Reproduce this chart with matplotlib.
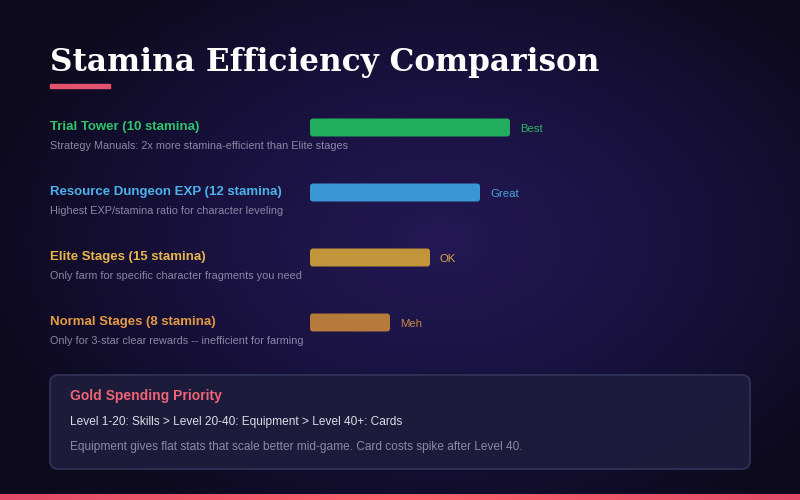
import numpy as np
import matplotlib.pyplot as plt
from matplotlib.patches import FancyBboxPatch, Rectangle
from matplotlib.colors import LinearSegmentedColormap

# data
names = ["Trial Tower (10 stamina)", "Resource Dungeon EXP (12 stamina)",
         "Elite Stages (15 stamina)", "Normal Stages (8 stamina)"]
notes = ["Strategy Manuals: 2x more stamina-efficient than Elite stages",
         "Highest EXP/stamina ratio for character leveling",
         "Only farm for specific character fragments you need",
         "Only for 3-star clear rewards -- inefficient for farming"]
scores = [100, 85, 60, 40]
ratings = ["Best", "Great", "OK", "Meh"]
bar_colors = ["#22ac5d", "#3a97d4", "#c2953a", "#b57a3c"]
label_colors = ["#2fc46a", "#4cb3ea", "#e8b64c", "#e39a45"]
rating_colors = ["#2fb363", "#4aa3dc", "#d6a443", "#c98a45"]

panel_title = "Gold Spending Priority"
panel_line = "Level 1-20: Skills > Level 20-40: Equipment > Level 40+: Cards"
panel_note = "Equipment gives flat stats that scale better mid-game. Card costs spike after Level 40."

plt.rcParams['font.family'] = ['Liberation Sans', 'DejaVu Sans']

fig = plt.figure(figsize=(8, 5), dpi=100)

# background axes in pixel units
bg = fig.add_axes([0, 0, 1, 1])
bg.set_xlim(0, 800)
bg.set_ylim(500, 0)
bg.axis('off')
yy, xx = np.mgrid[0:500, 0:800]
d = np.sqrt(((xx - 440) / 470.0) ** 2 + ((yy - 240) / 320.0) ** 2)
cmap = LinearSegmentedColormap.from_list('bg', ['#231854', '#19123f', '#0d0a1e'])
bg.imshow(np.clip(d, 0, 1), cmap=cmap, extent=(0, 800, 500, 0), aspect='auto', zorder=0)

# title + underline
bg.text(50, 71, "Stamina Efficiency Comparison", fontsize=22.4, family='DejaVu Serif',
        weight='bold', color='white', va='baseline')
bg.add_patch(Rectangle((50, 84), 60, 3.5, color='#e2536e', zorder=2))

# labels and notes
for i in range(len(names)):
    y = 130 + 65 * i
    bg.text(50, y, names[i], fontsize=9.5, weight='bold', color=label_colors[i], va='baseline')
    bg.text(50, y + 19, notes[i], fontsize=7.8, color='#8a87a6', va='baseline')

# bars
ax = fig.add_axes([310 / 800, 1 - 355 / 500, 200 / 800, 260 / 500])
ax.set_xlim(0, 100)
ax.set_ylim(3.5, -0.5)
ax.axis('off')
ax.patch.set_alpha(0)
bars = ax.barh(range(len(scores)), scores, height=18 / 65, color=bar_colors)
for b in bars:
    x0, y0 = b.get_x(), b.get_y()
    w, h = b.get_width(), b.get_height()
    rb = FancyBboxPatch((x0, y0), w, h, boxstyle="round,pad=0,rounding_size=1.6",
                        mutation_aspect=1 / 32.5, facecolor=b.get_facecolor(), edgecolor='none')
    b.remove()
    ax.add_patch(rb)
for i, s in enumerate(scores):
    ax.text(s + 5, i + 0.03, ratings[i], fontsize=8.2, color=rating_colors[i], va='center', clip_on=False)

# gold panel
bg.add_patch(FancyBboxPatch((50, 375), 700, 94, boxstyle="round,pad=0,rounding_size=8",
                            facecolor='#1d1c3c', edgecolor='#34365a', linewidth=1.2, alpha=0.95, zorder=2))
bg.text(70, 400, panel_title, fontsize=10, weight='bold', color='#ef6374', va='baseline', zorder=3)
bg.text(70, 425, panel_line, fontsize=8.6, color='#dcdce6', va='baseline', zorder=3)
bg.text(70, 450, panel_note, fontsize=8.6, color='#8a8aa4', va='baseline', zorder=3)

# bottom strip
grad = np.linspace(0, 1, 400).reshape(1, -1)
strip = LinearSegmentedColormap.from_list('strip', ['#e44d68', '#ff6670', '#e44d68'])
bg.imshow(grad, cmap=strip, extent=(0, 800, 500, 494.5), aspect='auto', zorder=3)

bg.set_xlim(0, 800)
bg.set_ylim(500, 0)
fig.savefig("out.png", dpi=100)
